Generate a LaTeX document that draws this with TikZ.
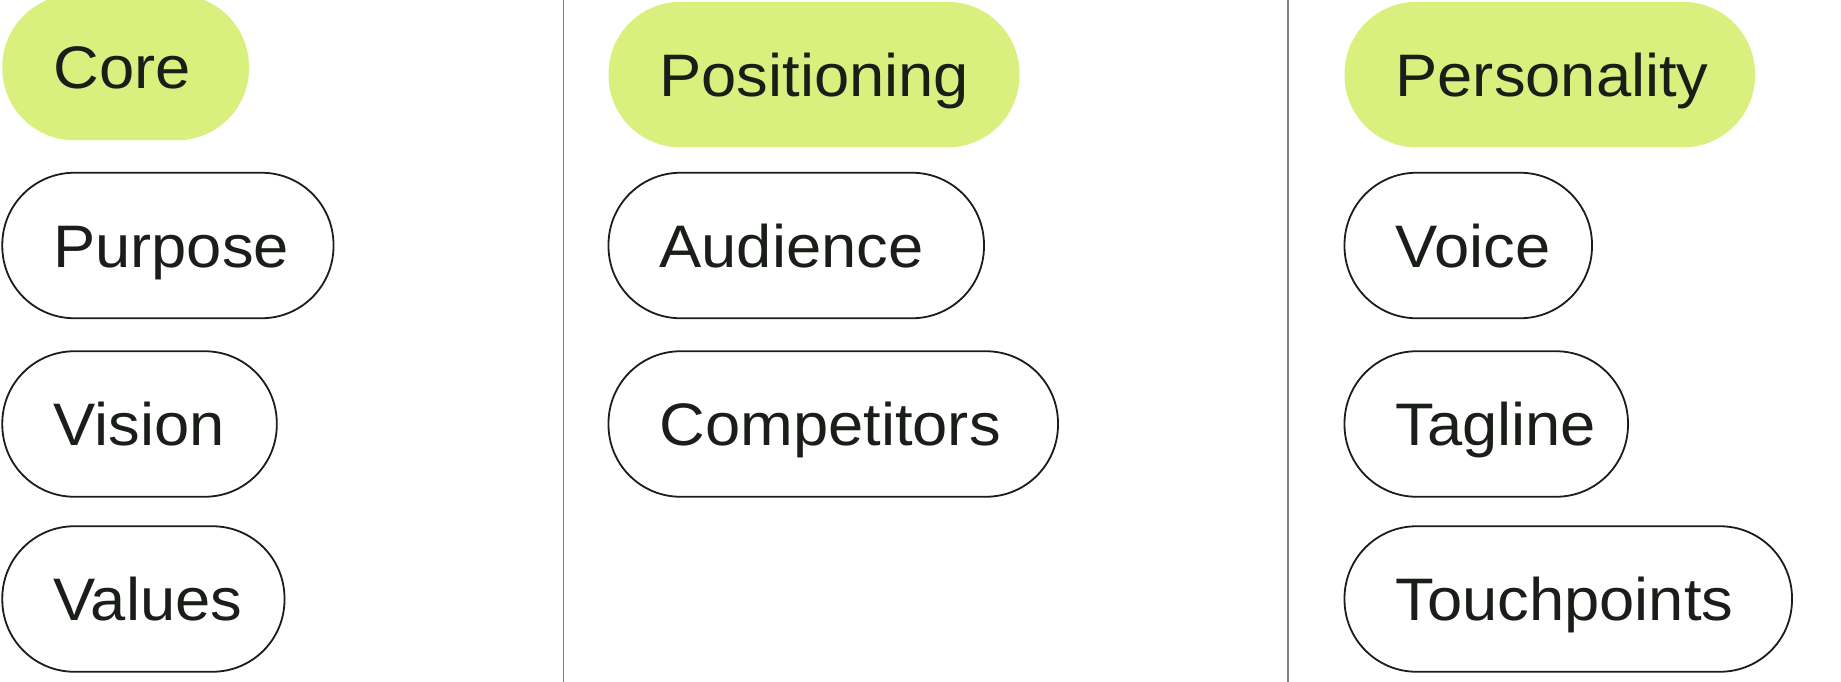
\documentclass[tikz,border=0pt]{standalone}
\usepackage{fontspec}
\setmainfont{Liberation Sans}[FakeStretch=1.055]
\definecolor{lime}{RGB}{217,240,126}
\definecolor{ink}{RGB}{26,30,24}
\definecolor{divider}{RGB}{128,128,128}
\begin{document}
\begin{tikzpicture}[x=1pt,y=-1pt,
  pill/.style={rectangle, rounded corners=72pt, minimum height=145.5pt,
    inner xsep=51pt, inner ysep=0pt, outer sep=0pt, anchor=west, align=left,
    text height=43pt, text depth=0pt, text=ink,
    font=\fontsize{60}{72}\selectfont},
  hl/.style={pill, fill=lime},
  plain/.style={pill, draw=ink, line width=1.8pt, fill=white},
  sep/.style={draw=divider, line width=1.6pt}]
\useasboundingbox (0,0) rectangle (1841,682);
\fill[white] (0,0) rectangle (1841,682);
% dividers
\coordinate (d1t) at (563.6,0); \coordinate (d1b) at (563.6,682);
\coordinate (d2t) at (1288,0);  \coordinate (d2b) at (1288,682);
\draw[sep] (d1t) -- (d1b);
\draw[sep] (d2t) -- (d2b);
% column 1
\node[hl, text width=144.7pt] (core) at (2.3,67.5) {Core};
\node[plain, text width=229.2pt] (purpose) at (2.3,245.5) {Purpose};
\node[plain, text width=172.5pt] (vision) at (2.3,424) {Vision};
\node[plain, text width=180.2pt] (values) at (2.3,599) {Values};
% column 2
\node[hl, text width=309pt] (positioning) at (608.5,74.6) {Positioning};
\node[plain, text width=273.5pt] (audience) at (608.5,245.5) {Audience};
\node[plain, text width=347.5pt] (competitors) at (608.5,424) {Competitors};
% column 3
\node[hl, text width=308.5pt] (personality) at (1344.5,74.6) {Personality};
\node[plain, text width=145.5pt] (voice) at (1344.5,245.5) {Voice};
\node[plain, text width=181.5pt] (tagline) at (1344.5,424) {Tagline};
\node[plain, text width=345.5pt] (touchpoints) at (1344.5,599) {Touchpoints};
\end{tikzpicture}
\end{document}
